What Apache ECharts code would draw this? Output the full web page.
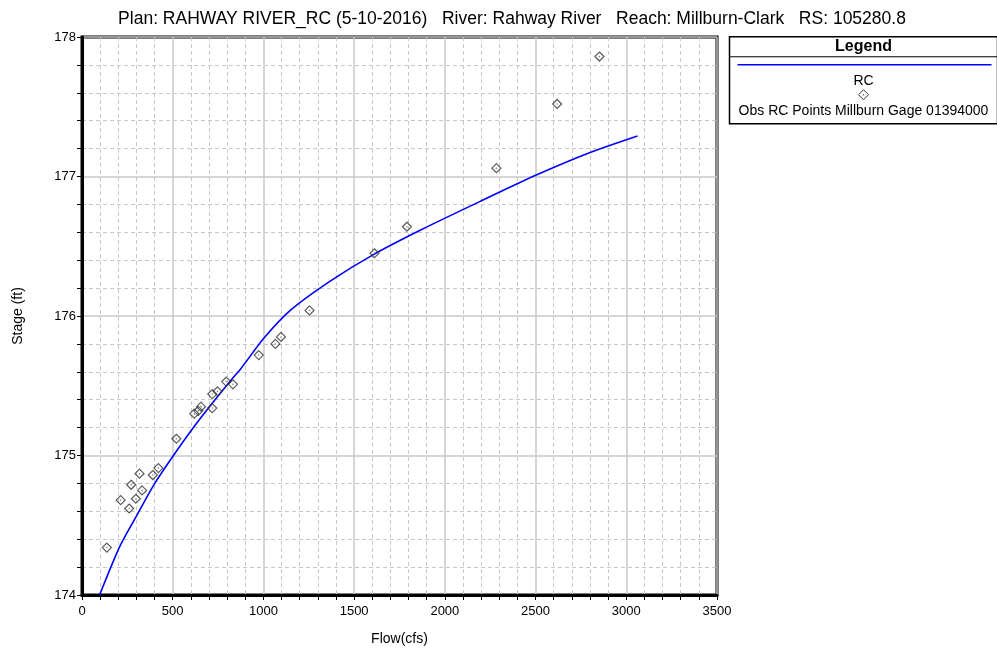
<!DOCTYPE html>
<html><head><meta charset="utf-8">
<script src="https://cdn.jsdelivr.net/npm/echarts@6/dist/echarts.min.js"></script>
<style>html,body{margin:0;padding:0;background:#fff}#c{width:997px;height:653px}</style>
</head><body><div id="c"></div>
<script>
var titleText = 'Plan: RAHWAY RIVER_RC (5-10-2016)   River: Rahway River   Reach: Millburn-Clark   RS: 105280.8';
var xName = 'Flow(cfs)';
var yName = 'Stage (ft)';
var rcFlow  = [97, 209, 306, 401, 504, 608, 709, 828, 874, 1002, 1148, 1368, 1606, 1872, 2192, 2504, 2797, 3062];
var rcStage = [174.0, 174.35, 174.58, 174.8, 175.0, 175.19, 175.36, 175.55, 175.62, 175.84, 176.04, 176.25, 176.44, 176.62, 176.82, 177.01, 177.17, 177.29];
var obsFlow  = [137, 213, 260, 271, 297, 317, 331, 390, 421, 520, 619, 641, 656, 718, 718, 747, 795, 832, 974, 1066, 1097, 1254, 1612, 1791, 2284, 2619, 2852];
var obsStage = [174.34, 174.68, 174.62, 174.79, 174.69, 174.87, 174.75, 174.86, 174.91, 175.12, 175.30, 175.32, 175.35, 175.34, 175.44, 175.46, 175.53, 175.51, 175.72, 175.80, 175.85, 176.04, 176.45, 176.64, 177.06, 177.52, 177.86];
var legendTitle = 'Legend';
var legendNames = ['RC', 'Obs RC Points Millburn Gage 01394000'];

var rcData = rcFlow.map(function(f,i){return [f, rcStage[i]];});
var obsData = obsFlow.map(function(f,i){return [f, obsStage[i]];});
var font = 'Arial, "Liberation Sans", sans-serif';
var chart = echarts.init(document.getElementById('c'));
chart.setOption({
  animation:false,
  backgroundColor:'#fff',
  title:{text:titleText,left:507,top:5,textAlign:'center',textStyle:{fontFamily:font,fontSize:17.5,fontWeight:'normal',color:'#000'}},
  grid:{left:82,top:37,width:635,height:558,show:true,borderColor:'#000',borderWidth:3,backgroundColor:'#fff'},
  xAxis:{type:'value',min:0,max:3500,interval:500,name:xName,nameLocation:'middle',nameGap:37,
    nameTextStyle:{fontFamily:font,fontSize:14,color:'#000'},
    axisLine:{show:true,lineStyle:{color:'#000',width:3}},
    axisTick:{show:true,inside:false,length:5,lineStyle:{color:'#000'}},
    minorTick:{show:true,splitNumber:5,length:5,lineStyle:{color:'#000'}},
    axisLabel:{fontFamily:font,fontSize:13,color:'#000',margin:10,formatter:function(v){return String(v);}},
    splitLine:{show:true,lineStyle:{color:'#c8c8c8',width:1.5}},
    minorSplitLine:{show:true,lineStyle:{color:'#c8c8c8',type:[4,3],width:1}}},
  yAxis:{type:'value',min:174,max:178,interval:1,name:yName,nameLocation:'middle',nameGap:57,nameRotate:90,
    nameTextStyle:{fontFamily:font,fontSize:14,color:'#000'},
    axisLine:{show:true,lineStyle:{color:'#000',width:3}},
    axisTick:{show:true,inside:false,length:5,lineStyle:{color:'#000'}},
    minorTick:{show:true,splitNumber:5,length:5,lineStyle:{color:'#000'}},
    axisLabel:{fontFamily:font,fontSize:13,color:'#000',margin:6,formatter:function(v){return String(v);}},
    splitLine:{show:true,lineStyle:{color:'#c8c8c8',width:1.5}},
    minorSplitLine:{show:true,lineStyle:{color:'#c8c8c8',type:[4,3],width:1}}},
  series:[
    {name:legendNames[0],type:'line',data:rcData,smooth:0.25,showSymbol:false,lineStyle:{color:'#0000ff',width:1.6},z:3},
    {name:legendNames[1],type:'scatter',data:obsData,symbol:'diamond',symbolSize:[9,9],itemStyle:{color:'rgba(255,255,255,0)',borderColor:'#333',borderWidth:1.2},z:4},
    {name:legendNames[1]+' c',type:'scatter',data:obsData,symbol:'circle',symbolSize:1.5,itemStyle:{color:'#555'},z:5,silent:true}
  ],
  graphic:[
    {type:'group',left:727,top:36,children:[
      {type:'rect',shape:{x:0,y:0,width:268,height:87},style:{fill:'#fff',stroke:'#000',lineWidth:1.5}},
      {type:'line',shape:{x1:0,y1:20,x2:268,y2:20},style:{stroke:'#000',lineWidth:1.2}},
      {type:'text',x:134,y:10,style:{text:legendTitle,font:'bold 16px '+font,fill:'#000',align:'center',verticalAlign:'middle'}},
      {type:'line',shape:{x1:8,y1:28,x2:262,y2:28},style:{stroke:'#0000ff',lineWidth:1.3}},
      {type:'text',x:134,y:44,style:{text:legendNames[0],font:'14px '+font,fill:'#000',align:'center',verticalAlign:'middle'}},
      {type:'polygon',shape:{points:[[134,53],[139,58],[134,63],[129,58]]},style:{fill:'#fff',stroke:'#333',lineWidth:1}},
      {type:'circle',shape:{cx:134,cy:58,r:0.8},style:{fill:'#555'}},
      {type:'text',x:134,y:74,style:{text:legendNames[1],font:'14px '+font,fill:'#000',align:'center',verticalAlign:'middle'}}
    ]}
  ]
});
</script></body></html>
